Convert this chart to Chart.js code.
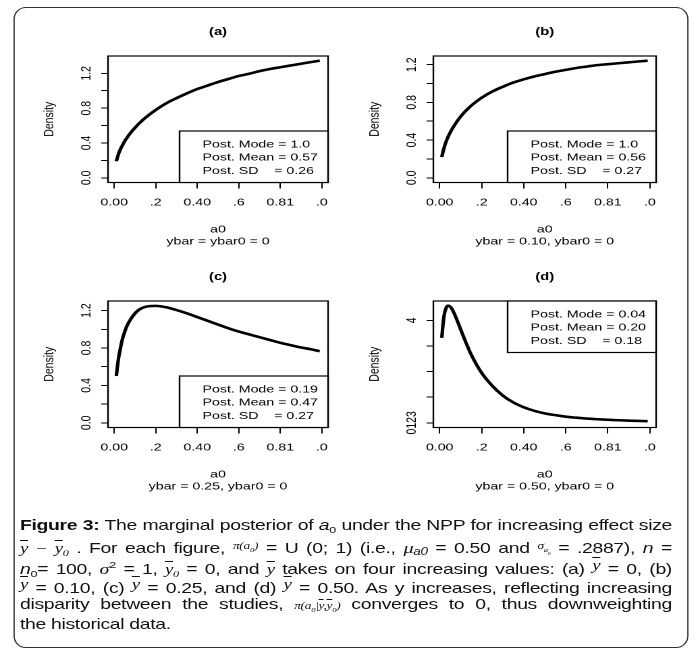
<!DOCTYPE html>
<html lang="en">
<head>
<meta charset="UTF-8">
<title>Figure 3: marginal posterior of a0 under the NPP</title>
<script src="https://cdn.jsdelivr.net/npm/chart.js"></script>
<style>
  html, body { margin: 0; padding: 0; background: #fff; overflow: hidden; }
  /* the source picture is stretched sideways, so the whole figure is too */
  #fig {
    position: relative; width: 516px; height: 650px;
    transform: scaleX(1.35); transform-origin: 0 0;
    font-family: "Liberation Sans", Arial, sans-serif; color: #000;
  }
  .frame {
    position: absolute; left: 9.6px; top: 7px; width: 500px; height: 641px;
    box-sizing: border-box; border: 1.5px solid #333; border-radius: 9px / 12px;
  }
  canvas { position: absolute; }
  .cap {
    position: absolute; left: 14.8px; top: 516px; width: 483px;
    font-size: 14.4px; line-height: 19.8px; letter-spacing: -0.25px; color: #111;
  }
  .cap div { height: 19.8px; white-space: nowrap; text-align: justify; text-align-last: justify; }
  .cap div.last { text-align-last: left; }
  .cap sub { font-size: 65%; vertical-align: -3px; line-height: 0; }
  .cap sup { font-size: 65%; vertical-align: 6px; line-height: 0; }
  .ov { text-decoration: overline; }
  .sy { font-family: "Liberation Serif", serif; font-style: italic; font-size: 14px; }
  .sm { font-family: "Liberation Serif", serif; font-style: italic; font-size: 10px; }
  .gk { font-family: "Liberation Serif", serif; font-style: italic; font-size: 15px; }
  .ss { font-style: italic; font-size: 10px; vertical-align: -2px; }
  .up { vertical-align: 4px; }
</style>
</head>
<body>
<div id="fig">
  <div class="frame"></div>
  <canvas id="pa" width="245" height="240" style="left:8px;top:12px"></canvas>
  <canvas id="pb" width="247" height="240" style="left:249px;top:12px"></canvas>
  <canvas id="pc" width="245" height="240" style="left:8px;top:257px"></canvas>
  <canvas id="pd" width="247" height="240" style="left:249px;top:257px"></canvas>

  <div class="cap">
    <div><b>Figure 3:</b> The marginal posterior of <i>a</i><sub>0</sub> under the NPP for increasing effect size</div>
    <div><span class="sy"><span class="ov">y</span> − <span class="ov">y</span><sub>0</sub></span> . For each figure, <span class="sm up">π(<i>a</i><sub>0</sub>)</span> = U (0; 1) (i.e., <span class="gk">μ</span><span class="ss">a0</span> = 0.50 and <span class="sm up">σ<sub><i>a</i><sub>0</sub></sub></span> = .2887), <i>n</i> =</div>
    <div><i>n</i><sub>0</sub>= 100, <span class="gk">σ</span><sup>2</sup> = 1, <span class="sy"><span class="ov">y</span><sub>0</sub></span> = 0, and <span class="sy"><span class="ov">y</span></span> takes on four increasing values: (a) <span class="sy up"><span class="ov">y</span></span> = 0, (b)</div>
    <div><span class="sy up"><span class="ov">y</span></span> = 0.10, (c) <span class="sy up"><span class="ov">y</span></span> = 0.25, and (d) <span class="sy up"><span class="ov">y</span></span> = 0.50. As y increases, reflecting increasing</div>
    <div>disparity between the studies, <span class="sm">π(<i>a</i><sub>0</sub>|<span class="ov">y</span>,<span class="ov">y</span><sub>0</sub>)</span> converges to 0, thus downweighting</div>
    <div class="last">the historical data.</div>
  </div>
</div>

<script>
  const FONT = '"Liberation Sans", Arial, sans-serif';

  const a0Grid = [0.01, 0.02, 0.03, 0.04, 0.05, 0.06, 0.08, 0.10, 0.12, 0.15, 0.20, 0.25, 0.30, 0.35,
                  0.40, 0.45, 0.50, 0.55, 0.60, 0.65, 0.70, 0.75, 0.80, 0.85, 0.90, 0.95, 0.99];

  const densityA = [0.19, 0.27, 0.33, 0.375, 0.42, 0.455, 0.52, 0.575, 0.625, 0.69, 0.78, 0.855, 0.915, 0.97,
                    1.02, 1.06, 1.10, 1.135, 1.17, 1.195, 1.225, 1.25, 1.27, 1.29, 1.31, 1.33, 1.345];
  const densityB = [0.22, 0.31, 0.38, 0.435, 0.48, 0.52, 0.59, 0.65, 0.70, 0.765, 0.85, 0.915, 0.965, 1.01,
                    1.045, 1.075, 1.10, 1.125, 1.145, 1.165, 1.18, 1.195, 1.205, 1.215, 1.225, 1.235, 1.242];
  const densityC = [0.50, 0.68, 0.80, 0.90, 0.97, 1.03, 1.11, 1.17, 1.21, 1.24, 1.25, 1.235, 1.205, 1.17,
                    1.13, 1.09, 1.05, 1.01, 0.975, 0.945, 0.915, 0.885, 0.855, 0.83, 0.805, 0.785, 0.765];
  const densityD = [3.32, 4.14, 4.48, 4.58, 4.54, 4.43, 4.07, 3.65, 3.24, 2.67, 1.95, 1.45, 1.07, 0.80,
                    0.61, 0.47, 0.37, 0.30, 0.24, 0.20, 0.165, 0.14, 0.12, 0.10, 0.085, 0.072, 0.063];

  const xTickValues = [0, 0.2, 0.4, 0.6, 0.8, 1.0];
  const xTickLabels = ['0.00', '.2', '0.40', '.6', '0.81', '.0'];
  const yTickValues = [0, 0.2, 0.4, 0.6, 0.8, 1.0, 1.2];
  const yTickLabels = ['0.0', '', '0.4', '', '0.8', '', '1.2'];
  const yTickValuesD = [0, 1, 2, 3, 4];
  const yTickLabelsD = ['0123', '', '', '', '4'];

  const panelTitles = ['(a)', '(b)', '(c)', '(d)'];
  const subLabels = ['ybar = ybar0 = 0', 'ybar = 0.10, ybar0 = 0', 'ybar = 0.25, ybar0 = 0', 'ybar = 0.50, ybar0 = 0'];
  const postMode = ['1.0', '1.0', '0.19', '0.04'];
  const postMean = ['0.57', '0.56', '0.47', '0.20'];
  const postSD = ['0.26', '0.27', '0.27', '0.18'];

  Chart.defaults.font.family = FONT;
  Chart.defaults.color = '#000';

  // R style: box round the plot plus the stats box
  const rBox = {
    id: 'rBox',
    afterDatasetsDraw(chart, args, opts) {
      const { ctx, chartArea: a } = chart;
      ctx.save();
      ctx.strokeStyle = '#000';
      ctx.lineWidth = 1.2;
      ctx.strokeRect(a.left, a.top, a.right - a.left, a.bottom - a.top);

      const w = 110, h = 51.5;
      const x = a.right - w;
      const y = opts.top ? a.top : a.bottom - h;
      ctx.fillStyle = '#fff';
      ctx.fillRect(x, y, w, h);
      ctx.strokeRect(x, y, w, h);

      ctx.fillStyle = '#000';
      ctx.font = '10.5px ' + FONT;
      ctx.textBaseline = 'middle';
      ctx.textAlign = 'left';
      opts.lines.forEach((t, i) => ctx.fillText(t, x + 17, y + 13.5 + i * 13.3));
      ctx.restore();
    }
  };

  function drawPanel(id, k, ys, yMin, yMax, yVals, yLabels, yPad, statsTop) {
    new Chart(document.getElementById(id), {
      type: 'line',
      data: {
        datasets: [{
          data: a0Grid.map((a, i) => ({ x: a, y: ys[i] })),
          borderColor: '#000',
          borderWidth: 2.6,
          pointRadius: 0,
          cubicInterpolationMode: 'monotone',
          fill: false
        }]
      },
      options: {
        responsive: false,
        animation: false,
        devicePixelRatio: 2,
        layout: { padding: { left: 0, right: 10, top: 0, bottom: 0 } },
        scales: {
          x: {
            type: 'linear', min: -0.03, max: 1.03,
            afterBuildTicks: s => { s.ticks = xTickValues.map(v => ({ value: v })); },
            ticks: {
              autoSkip: false, maxRotation: 0, padding: 7.7,
              font: { size: 10.5 },
              callback: (v, i) => xTickLabels[i]
            },
            grid: { drawOnChartArea: false, tickLength: 6, tickColor: '#000', tickWidth: 1 },
            border: { display: false },
            title: {
              display: true, text: ['a0', subLabels[k]],
              font: { size: 10.5, lineHeight: 1.15 },
              padding: { top: 0, bottom: 4.4 }
            },
            afterFit: s => { s.height = 69.5; }
          },
          y: {
            min: yMin, max: yMax,
            afterBuildTicks: s => { s.ticks = yVals.map(v => ({ value: v })); },
            ticks: {
              autoSkip: false, minRotation: 90, maxRotation: 90, crossAlign: 'center',
              padding: yPad, font: { size: 10.5 },
              callback: (v, i) => yLabels[i]
            },
            grid: { drawOnChartArea: false, tickLength: 5, tickColor: '#000', tickWidth: 1 },
            border: { display: false },
            title: { display: true, text: 'Density', font: { size: 10.5 }, padding: { top: 22.2, bottom: 0 } },
            afterFit: s => { s.width = 72; }
          }
        },
        plugins: {
          legend: { display: false },
          tooltip: { enabled: false },
          title: {
            display: true, text: panelTitles[k], fullSize: false,
            font: { size: 11, weight: 'bold' },
            padding: { top: 13.4, bottom: 17.4 }
          },
          rBox: {
            top: statsTop,
            lines: ['Post. Mode = ' + postMode[k], 'Post. Mean = ' + postMean[k], 'Post. SD    = ' + postSD[k]]
          }
        }
      },
      plugins: [rBox]
    });
  }

  drawPanel('pa', 0, densityA, -0.054, 1.399, yTickValues, yTickLabels, 3.6, false);
  drawPanel('pb', 1, densityB, -0.050, 1.292, yTickValues, yTickLabels, 3.6, false);
  drawPanel('pc', 2, densityC, -0.050, 1.302, yTickValues, yTickLabels, 3.6, false);
  drawPanel('pd', 3, densityD, -0.183, 4.763, yTickValuesD, yTickLabelsD, -0.8, true);
</script>
</body>
</html>
